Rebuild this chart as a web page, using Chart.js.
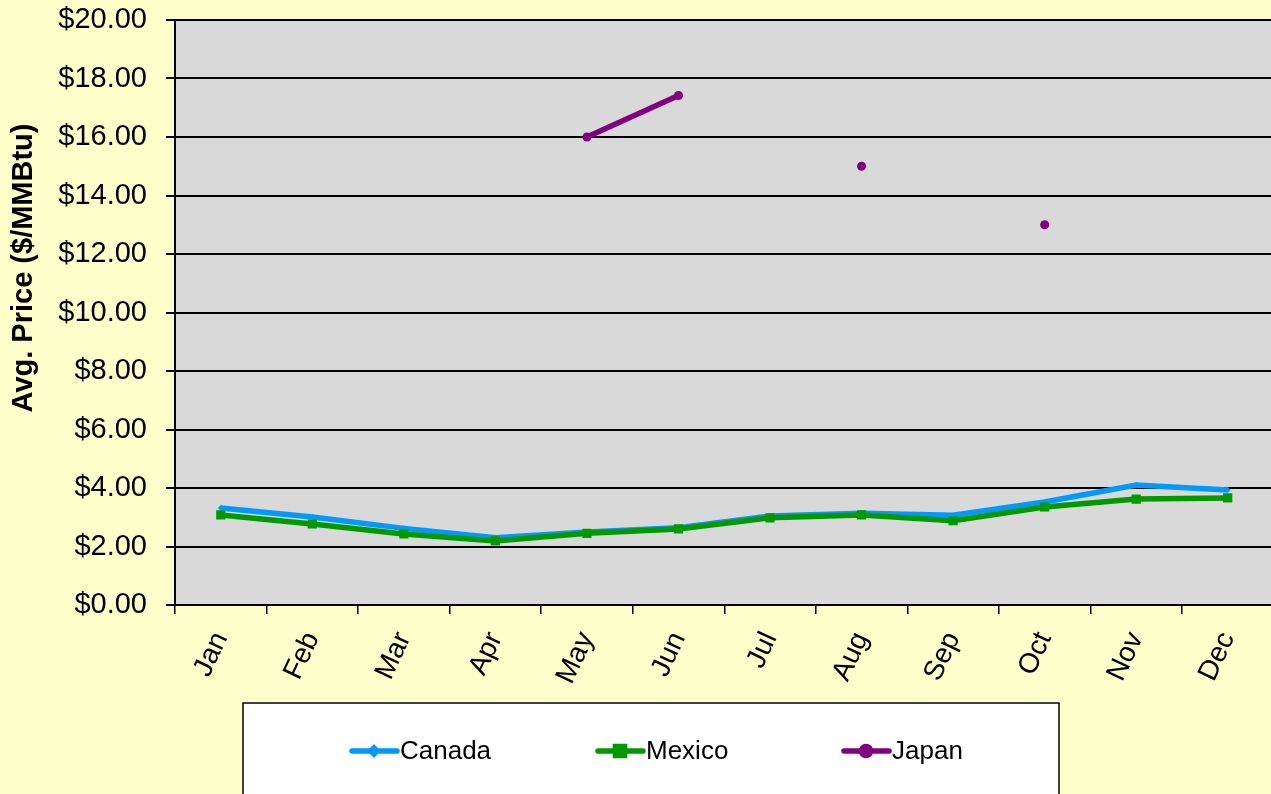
<!DOCTYPE html>
<html>
<head>
<meta charset="utf-8">
<script src="https://cdn.jsdelivr.net/npm/chart.js@4"></script>
<style>
  html, body { margin: 0; padding: 0; background: #FFFFCC; overflow: hidden; }
  #wrap { width: 1280px; height: 794px; }
</style>
</head>
<body>
<div id="wrap"><canvas id="priceChart" width="1280" height="794"></canvas></div>
<script>
const months = ["Jan", "Feb", "Mar", "Apr", "May", "Jun", "Jul", "Aug", "Sep", "Oct", "Nov", "Dec"];
const canadaPrices = [3.32, 3.01, 2.62, 2.30, 2.50, 2.64, 3.04, 3.14, 3.07, 3.52, 4.10, 3.93];
const mexicoPrices = [3.08, 2.77, 2.43, 2.19, 2.45, 2.60, 2.98, 3.08, 2.88, 3.35, 3.62, 3.66];
const japanPrices = [null, null, null, null, 16.0, 17.42, null, 15.0, null, 13.0, null, null];
const seriesNames = ["Canada", "Mexico", "Japan"];
const seriesColors = ["#0099FF", "#009900", "#800080"];
const seriesMarkers = ["rectRot", "rect", "circle"];
const yAxisTitle = "Avg. Price ($/MMBtu)";

const FONT = "'Liberation Sans', Arial, sans-serif";

// gray plot area + yellow page
const backgroundPlugin = {
  id: "backgrounds",
  beforeDraw(chart) {
    const { ctx, chartArea } = chart;
    ctx.save();
    ctx.fillStyle = "#FFFFCC";
    ctx.fillRect(0, 0, chart.width, chart.height);
    ctx.fillStyle = "#D9D9D9";
    ctx.fillRect(chartArea.left, chartArea.top, chartArea.right - chartArea.left, chartArea.bottom - chartArea.top);
    ctx.restore();
  },
};

// rotated y title, sits above the middle like the original
const yTitlePlugin = {
  id: "yTitle",
  afterDraw(chart) {
    const { ctx } = chart;
    ctx.save();
    ctx.translate(24, 268);
    ctx.rotate(-Math.PI / 2);
    ctx.font = "bold 29px " + FONT;
    ctx.fillStyle = "#000";
    ctx.textAlign = "center";
    ctx.textBaseline = "middle";
    ctx.fillText(yAxisTitle, 0, 0);
    ctx.restore();
  },
};

// boxed legend with evenly spaced entries
const boxLegendPlugin = {
  id: "boxLegend",
  afterDraw(chart) {
    const { ctx } = chart;
    ctx.save();
    ctx.fillStyle = "#FFFFFF";
    ctx.fillRect(243, 703, 816, 120);
    ctx.strokeStyle = "#000";
    ctx.lineWidth = 1.5;
    ctx.strokeRect(243, 703, 816, 120);

    const y = 751;
    chart.data.datasets.forEach((ds, i) => {
      const x0 = 352 + i * 246;
      ctx.strokeStyle = ds.borderColor;
      ctx.lineWidth = 5.5;
      ctx.lineCap = "round";
      ctx.beginPath();
      ctx.moveTo(x0, y);
      ctx.lineTo(x0 + 45, y);
      ctx.stroke();
      Chart.helpers.drawPoint(ctx, {
        pointStyle: ds.pointStyle,
        radius: ds.pointRadius,
        rotation: 0,
        borderWidth: 1,
      }, x0 + 22, y);
      ctx.fillStyle = ds.borderColor;
      ctx.fill();
      ctx.fillStyle = "#000";
      ctx.font = "26px " + FONT;
      ctx.textAlign = "left";
      ctx.textBaseline = "middle";
      ctx.fillText(ds.label, x0 + 48, y + 1);
    });
    ctx.restore();
  },
};

const seriesData = [canadaPrices, mexicoPrices, japanPrices];
const markerSizes = [3, 6.5, 4.5];

const config = {
  type: "line",
  data: {
    labels: months,
    datasets: seriesNames.map((name, i) => ({
      label: name,
      data: seriesData[i],
      borderColor: seriesColors[i],
      backgroundColor: seriesColors[i],
      borderWidth: 5.5,
      pointStyle: seriesMarkers[i],
      pointRadius: markerSizes[i],
      pointBorderWidth: 0,
      tension: 0,
      spanGaps: false,
      order: 3 - i,
    })),
  },
  options: {
    responsive: false,
    animation: false,
    layout: { padding: { left: 0, top: 20, right: 3, bottom: 104 } },
    plugins: {
      legend: { display: false },
      tooltip: { enabled: false },
    },
    scales: {
      x: {
        offset: true,
        grid: {
          offset: true,
          drawOnChartArea: false,
          drawTicks: true,
          tickLength: 9,
          color: "#000",
          lineWidth: 1.5,
        },
        border: { display: true, color: "#000", width: 2 },
        ticks: {
          minRotation: 65,
          maxRotation: 65,
          padding: 13,
          color: "#000",
          font: { family: FONT, size: 28 },
        },
        afterFit(scale) { scale.height = 85; },
      },
      y: {
        min: 0,
        max: 20,
        grid: {
          color: "#000",
          lineWidth: 2,
          tickLength: 9,
        },
        border: { display: true, color: "#000", width: 2 },
        ticks: {
          stepSize: 2,
          padding: 19,
          color: "#000",
          font: { family: FONT, size: 29 },
          callback: (v) => "$" + v.toFixed(2),
        },
        afterFit(scale) {
          scale.width = 175;
          scale.paddingTop = 0;
          scale.paddingBottom = 0;
        },
      },
    },
  },
  plugins: [backgroundPlugin, yTitlePlugin, boxLegendPlugin],
};

new Chart(document.getElementById("priceChart"), config);
</script>
</body>
</html>
